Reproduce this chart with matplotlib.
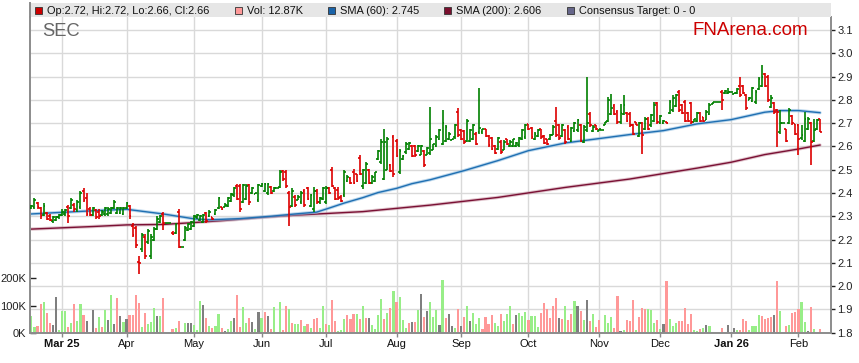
import matplotlib
matplotlib.use('Agg')
import matplotlib.pyplot as plt
from matplotlib.patches import Rectangle
from matplotlib.lines import Line2D
import numpy as np
import pandas as pd

plt.rcParams['font.family'] = ['Liberation Sans', 'DejaVu Sans']

# ---------------- data ----------------
start_date = '2025-02-17'
end_date = '2026-02-11'

opens = [2.335,2.34,2.355,2.335,2.305,2.315,2.30,2.28,2.285,2.295,
 2.305,2.31,2.34,2.335,2.35,2.325,2.34,2.41,2.38,2.33,
 2.305,2.325,2.32,2.305,2.31,2.31,2.315,2.335,2.315,2.315,
 2.31,2.335,2.345,2.26,2.25,2.105,2.16,2.21,2.19,2.13,
 2.20,2.245,2.275,2.31,2.27,2.27,2.23,2.23,2.32,2.17,
 2.20,2.24,2.245,2.26,2.295,2.285,2.275,2.315,2.30,2.295,
 2.31,2.335,2.34,2.34,2.345,2.365,2.39,2.43,2.43,2.36,
 2.375,2.435,2.40,2.395,2.37,2.43,2.41,2.40,2.425,2.41,
 2.42,2.425,2.495,2.49,2.40,2.345,2.385,2.37,2.36,2.41,
 2.42,2.345,2.33,2.41,2.36,2.375,2.36,2.42,2.50,2.42,
 2.415,2.385,2.39,2.45,2.465,2.49,2.48,2.55,2.43,2.445,
 2.50,2.445,2.45,2.545,2.535,2.46,2.50,2.52,2.64,2.625,
 2.49,2.545,2.575,2.59,2.60,2.60,2.58,2.565,2.58,2.565,
 2.57,2.585,2.60,2.63,2.61,2.625,2.63,2.627,2.64,2.75,
 2.67,2.665,2.625,2.625,2.63,2.655,2.66,2.66,2.675,2.645,
 2.635,2.60,2.59,2.62,2.585,2.63,2.60,2.60,2.60,2.605,
 2.63,2.64,2.695,2.68,2.63,2.645,2.675,2.645,2.63,2.63,
 2.65,2.71,2.69,2.645,2.67,2.685,2.625,2.665,2.67,2.69,
 2.62,2.67,2.74,2.665,2.69,2.668,2.672,2.693,2.71,2.74,
 2.775,2.75,2.705,2.74,2.745,2.74,2.69,2.703,2.645,2.70,
 2.675,2.72,2.69,2.71,2.785,2.70,2.70,2.705,2.745,2.755,
 2.775,2.835,2.78,2.79,2.745,2.785,2.707,2.71,2.745,2.725,
 2.715,2.74,2.784,2.79,2.79,2.835,2.828,2.828,2.835,2.826,
 2.828,2.86,2.86,2.82,2.80,2.795,2.79,2.845,2.86,2.91,
 2.90,2.77,2.785,2.755,2.66,2.70,2.675,2.70,2.73,2.695,
 2.69,2.635,2.625,2.675,2.70,2.625,2.675,2.72]

highs = [2.35,2.38,2.36,2.34,2.355,2.32,2.31,2.30,2.30,2.31,
 2.33,2.33,2.35,2.38,2.355,2.37,2.41,2.42,2.40,2.34,
 2.34,2.33,2.33,2.325,2.34,2.34,2.34,2.37,2.34,2.34,
 2.34,2.36,2.35,2.27,2.26,2.13,2.23,2.225,2.245,2.225,
 2.255,2.30,2.305,2.32,2.27,2.27,2.235,2.27,2.33,2.17,
 2.26,2.27,2.28,2.305,2.31,2.305,2.31,2.32,2.325,2.295,
 2.33,2.385,2.34,2.355,2.385,2.40,2.425,2.44,2.44,2.44,
 2.44,2.44,2.425,2.40,2.44,2.445,2.445,2.445,2.43,2.425,
 2.42,2.50,2.50,2.50,2.41,2.42,2.39,2.39,2.41,2.418,
 2.425,2.397,2.425,2.418,2.383,2.425,2.428,2.425,2.512,2.425,
 2.425,2.39,2.497,2.476,2.469,2.505,2.483,2.562,2.505,2.533,
 2.505,2.476,2.49,2.583,2.634,2.677,2.641,2.526,2.648,2.634,
 2.59,2.562,2.619,2.619,2.605,2.605,2.605,2.605,2.583,2.598,
 2.77,2.612,2.648,2.677,2.756,2.691,2.662,2.634,2.698,2.763,
 2.677,2.669,2.72,2.677,2.698,2.662,2.849,2.677,2.677,2.648,
 2.641,2.605,2.641,2.626,2.626,2.634,2.626,2.634,2.619,2.641,
 2.677,2.698,2.698,2.684,2.662,2.677,2.677,2.648,2.634,2.655,
 2.691,2.77,2.698,2.698,2.677,2.691,2.684,2.705,2.72,2.698,
 2.691,2.90,2.748,2.691,2.691,2.677,2.672,2.705,2.813,2.827,
 2.784,2.756,2.784,2.82,2.748,2.748,2.698,2.705,2.705,2.705,
 2.727,2.727,2.741,2.791,2.791,2.734,2.712,2.705,2.798,2.82,
 2.827,2.842,2.784,2.798,2.748,2.791,2.72,2.748,2.748,2.727,
 2.756,2.785,2.79,2.79,2.79,2.842,2.842,2.849,2.835,2.83,
 2.849,2.90,2.863,2.827,2.813,2.856,2.842,2.899,2.949,2.916,
 2.906,2.82,2.791,2.76,2.756,2.70,2.677,2.763,2.734,2.698,
 2.698,2.691,2.748,2.727,2.705,2.72,2.72,2.72]

lows = [2.33,2.33,2.33,2.29,2.30,2.285,2.28,2.27,2.28,2.29,
 2.30,2.30,2.27,2.33,2.32,2.32,2.33,2.36,2.30,2.30,
 2.30,2.29,2.29,2.30,2.30,2.30,2.31,2.33,2.31,2.31,
 2.305,2.33,2.29,2.21,2.165,2.05,2.145,2.115,2.18,2.115,
 2.195,2.24,2.27,2.24,2.27,2.27,2.22,2.225,2.165,2.17,
 2.195,2.235,2.24,2.255,2.29,2.28,2.27,2.27,2.295,2.285,
 2.305,2.33,2.325,2.34,2.34,2.36,2.385,2.37,2.32,2.355,
 2.37,2.35,2.395,2.395,2.36,2.425,2.405,2.39,2.395,2.405,
 2.42,2.42,2.45,2.42,2.26,2.34,2.34,2.368,2.354,2.34,
 2.368,2.34,2.318,2.354,2.354,2.368,2.354,2.397,2.425,2.368,
 2.368,2.361,2.383,2.447,2.44,2.44,2.447,2.476,2.418,2.44,
 2.44,2.44,2.447,2.54,2.526,2.454,2.497,2.49,2.469,2.555,
 2.483,2.54,2.569,2.583,2.555,2.555,2.576,2.562,2.512,2.562,
 2.562,2.583,2.598,2.626,2.605,2.619,2.626,2.626,2.634,2.641,
 2.626,2.612,2.619,2.619,2.626,2.605,2.655,2.655,2.641,2.598,
 2.583,2.569,2.583,2.569,2.583,2.605,2.598,2.598,2.598,2.598,
 2.626,2.634,2.669,2.634,2.626,2.641,2.634,2.612,2.605,2.626,
 2.648,2.641,2.626,2.641,2.612,2.626,2.619,2.662,2.662,2.619,
 2.615,2.662,2.684,2.662,2.669,2.667,2.672,2.691,2.705,2.734,
 2.734,2.698,2.698,2.734,2.705,2.684,2.648,2.691,2.641,2.569,
 2.669,2.669,2.684,2.705,2.698,2.698,2.698,2.698,2.741,2.748,
 2.77,2.748,2.741,2.705,2.705,2.698,2.705,2.705,2.705,2.705,
 2.712,2.734,2.783,2.79,2.79,2.756,2.827,2.827,2.835,2.825,
 2.827,2.813,2.827,2.758,2.799,2.791,2.784,2.842,2.856,2.856,
 2.791,2.763,2.741,2.598,2.655,2.70,2.619,2.698,2.691,2.648,
 2.562,2.626,2.619,2.669,2.519,2.619,2.669,2.66]

closes = [2.345,2.37,2.34,2.30,2.345,2.29,2.285,2.295,2.295,2.305,
 2.32,2.325,2.30,2.37,2.33,2.36,2.40,2.37,2.31,2.305,
 2.335,2.295,2.30,2.32,2.335,2.33,2.335,2.36,2.335,2.335,
 2.335,2.355,2.30,2.22,2.175,2.10,2.22,2.13,2.235,2.21,
 2.245,2.29,2.30,2.27,2.27,2.27,2.225,2.265,2.17,2.17,
 2.25,2.265,2.275,2.30,2.305,2.30,2.305,2.28,2.32,2.29,
 2.325,2.38,2.33,2.35,2.38,2.395,2.42,2.375,2.33,2.435,
 2.43,2.36,2.42,2.40,2.435,2.44,2.44,2.44,2.40,2.42,
 2.42,2.49,2.46,2.43,2.34,2.41,2.35,2.385,2.40,2.35,
 2.375,2.39,2.41,2.36,2.38,2.42,2.42,2.40,2.43,2.375,
 2.38,2.365,2.49,2.47,2.445,2.445,2.45,2.48,2.50,2.525,
 2.445,2.47,2.49,2.58,2.62,2.62,2.63,2.495,2.48,2.56,
 2.58,2.56,2.61,2.615,2.56,2.565,2.60,2.60,2.52,2.595,
 2.63,2.61,2.64,2.67,2.70,2.685,2.655,2.633,2.69,2.65,
 2.63,2.62,2.71,2.67,2.69,2.61,2.68,2.675,2.645,2.605,
 2.59,2.57,2.635,2.575,2.62,2.61,2.62,2.63,2.615,2.635,
 2.67,2.69,2.675,2.64,2.655,2.67,2.64,2.615,2.61,2.65,
 2.685,2.65,2.635,2.69,2.62,2.63,2.68,2.70,2.715,2.625,
 2.685,2.70,2.69,2.685,2.675,2.675,2.672,2.703,2.80,2.765,
 2.74,2.705,2.745,2.78,2.71,2.69,2.655,2.693,2.70,2.65,
 2.72,2.675,2.735,2.78,2.705,2.73,2.71,2.70,2.79,2.81,
 2.82,2.755,2.745,2.71,2.71,2.705,2.718,2.745,2.71,2.71,
 2.75,2.78,2.79,2.79,2.79,2.80,2.84,2.835,2.835,2.829,
 2.845,2.82,2.83,2.765,2.81,2.85,2.835,2.89,2.90,2.86,
 2.80,2.81,2.75,2.75,2.70,2.70,2.625,2.755,2.70,2.655,
 2.63,2.65,2.72,2.72,2.62,2.67,2.715,2.66]

volumes_k = [62,23,25,107,114,73,36,29,131,12,
 81,81,23,36,105,44,104,65,44,5,
 84,19,59,23,84,48,138,33,127,62,
 41,51,64,65,138,108,23,73,33,40,
 91,62,62,127,0,0,15,19,44,0,
 38,38,38,28,12,116,102,53,25,17,
 25,69,19,7,16,42,55,138,23,95,
 35,55,40,16,76,56,76,61,16,95,
 0,113,10,100,88,36,31,31,47,25,
 31,19,50,56,18,100,31,28,120,44,
 7,10,52,65,50,70,68,50,100,56,
 55,28,13,64,125,50,74,91,153,114,
 131,48,18,36,40,41,84,142,59,81,
 114,58,82,28,192,55,68,25,18,87,
 25,58,100,44,73,31,55,15,58,31,
 64,36,25,68,44,68,100,31,64,72,
 62,76,47,62,62,23,72,109,87,53,
 98,127,55,51,100,47,68,116,98,80,
 47,120,44,68,23,47,0,64,36,58,
 18,135,7,11,48,44,120,10,58,91,
 87,86,82,36,47,15,31,189,52,25,
 36,44,44,91,31,68,10,7,15,17,
 28,24,5,0,0,17,0,29,0,18,
 10,12,52,45,10,25,25,65,61,50,
 55,58,65,189,81,0,25,28,72,76,
 87,113,40,7,95,15,0,12.87]

# volume direction per day: u = up, d = down, n = unchanged
vol_dir = ''.join([
 'uudduddnnu', 'uududuudnd', 'ndudunundn', 'undddduduu', 'unudnndudn',
 'unnuuundud', 'uudnuunddu', 'udnunudndu', 'nudduduudu', 'dudduududd',
 'uuudddudud', 'nuuuududud', 'uuudndundn', 'uuunudnnud', 'ndunuuuddd',
 'duuduuudnu', 'uuduuudddd', 'ddnduddund', 'unduddnuuu', 'ddnudddudd',
 'duuudunduu', 'uddddduudu', 'nuunndnnnn', 'uddduuuudd', 'ddndundudd',
 'duundund'])

sma60_dates = ['2025-02-17','2025-03-03','2025-03-19','2025-04-01','2025-04-17',
 '2025-05-01','2025-05-08','2025-05-22','2025-06-05','2025-06-17','2025-06-26',
 '2025-07-02','2025-07-09','2025-07-17','2025-07-24','2025-08-01','2025-08-08',
 '2025-08-18','2025-09-02','2025-09-17','2025-10-01','2025-10-17','2025-10-31',
 '2025-11-17','2025-12-02','2025-12-17','2026-01-01','2026-01-16','2026-01-23',
 '2026-02-02','2026-02-11']
sma60_vals = [2.31,2.317,2.325,2.33,2.31,2.289,2.285,2.29,2.30,2.31,2.318,
 2.335,2.357,2.38,2.402,2.42,2.44,2.457,2.496,2.539,2.582,2.615,2.632,
 2.651,2.668,2.697,2.715,2.747,2.754,2.754,2.745]

sma200_dates = ['2025-02-17','2025-03-17','2025-04-01','2025-04-17','2025-05-01',
 '2025-05-16','2025-06-02','2025-06-17','2025-07-17','2025-08-18','2025-09-17',
 '2025-10-17','2025-11-17','2025-12-17','2026-01-01','2026-01-16','2026-02-02',
 '2026-02-11']
sma200_vals = [2.245,2.256,2.263,2.265,2.273,2.283,2.295,2.305,2.32,2.348,2.381,
 2.424,2.46,2.507,2.532,2.565,2.589,2.606]

month_labels = ['Mar 25','Apr','May','Jun','Jul','Aug','Sep','Oct','Nov','Dec','Jan 26','Feb']
price_ticks = [1.8,1.9,2.0,2.1,2.2,2.3,2.4,2.5,2.6,2.7,2.8,2.9,3.0,3.1]
vol_ticks_k = [0,100,200]

header_items = [
    ('Op:2.72, Hi:2.72, Lo:2.66, Cl:2.66', '#cc0000', 35),
    ('Vol: 12.87K', '#ff9999', 235),
    ('SMA (60): 2.745', '#1a63a8', 328),
    ('SMA (200): 2.606', '#7a0f2e', 444),
    ('Consensus Target: 0 - 0', '#66668a', 567),
]

# ---------------- figure ----------------
W, H = 859, 363
fig = plt.figure(figsize=(W/100, H/100), dpi=100)
fig.patch.set_facecolor('white')

def fx(px):
    return px / W

def fy(py):
    return 1 - py / H

rect = [fx(30), fy(333), 801/W, 316/H]
dates = pd.bdate_range(start_date, end_date)
n = len(dates)
x = np.arange(n)
xlim = (-0.45, 260.6)
ylim = (1.7987, 3.156)

months = dates.month.values
month_pos = [i for i in range(1, n) if months[i] != months[i - 1]]

# grid layer
axg = fig.add_axes(rect)
axg.set_xlim(*xlim); axg.set_ylim(*ylim)
for p in price_ticks:
    axg.axhline(p, color='#d9d9d9', lw=1.0, zorder=0)
for p in month_pos:
    axg.axvline(p, color='#d9d9d9', lw=1.0, zorder=0)
axg.set_xticks([]); axg.set_yticks([])
for s in axg.spines.values():
    s.set_visible(False)

# volume layer
axv = fig.add_axes(rect)
axv.patch.set_visible(False)
axv.set_xlim(*xlim)
vcol = {'u': '#98ee88', 'd': '#ff9898', 'n': '#7f7f7f'}
vols = np.array(volumes_k, dtype=float)
axv.bar(x, vols, width=0.7, color=[vcol[c] for c in vol_dir[:n]], linewidth=0)
axv.set_ylim(0, 1150)
axv.set_yticks(vol_ticks_k)
axv.set_yticklabels([f'{v}K' for v in vol_ticks_k])
axv.tick_params(axis='y', direction='in', length=4, width=1, color='#222222',
                labelsize=8, pad=3, labelcolor='#222222')
axv.set_xticks([])
for s in axv.spines.values():
    s.set_visible(False)

# price layer
ax = fig.add_axes(rect)
ax.patch.set_visible(False)
ax.set_ylim(*ylim)
ax.set_xlim(*xlim)

sx60 = [dates.get_loc(pd.Timestamp(d)) for d in sma60_dates]
sx200 = [dates.get_loc(pd.Timestamp(d)) for d in sma200_dates]
ax.plot(sx200, sma200_vals, color='#c08898', lw=2.4, alpha=0.5, solid_capstyle='round', zorder=2)
ax.plot(sx200, sma200_vals, color='#7a1034', lw=1.0, zorder=2)
ax.plot(sx60, sma60_vals, color='#8fbde0', lw=2.4, alpha=0.6, solid_capstyle='round', zorder=2)
ax.plot(sx60, sma60_vals, color='#1f6fb2', lw=1.0, zorder=2)

o = np.array(opens); h = np.array(highs); l = np.array(lows); c = np.array(closes)
cols = np.where(c >= o, '#008000', '#dd0000')
ax.vlines(x, l, h, colors=cols, lw=1.2, zorder=3)
ax.hlines(o, x - 0.6, x, colors=cols, lw=1.2, zorder=3)
ax.hlines(c, x, x + 0.6, colors=cols, lw=1.2, zorder=3)

ax.yaxis.tick_right()
ax.set_yticks(price_ticks)
ax.set_yticklabels([f'{p:.1f}' for p in price_ticks])
ax.tick_params(axis='y', direction='out', length=3, width=1, color='#222222',
               labelsize=8, pad=1.5, labelcolor='#222222')
ax.set_xticks(month_pos)
ax.set_xticklabels(month_labels)
for lab in ax.get_xticklabels():
    if ' ' in lab.get_text():
        lab.set_fontweight('bold')
ax.tick_params(axis='x', direction='out', length=3, width=1, color='#888888',
               labelsize=8, pad=1, labelcolor='#111111')
for side in ['left', 'right', 'bottom']:
    ax.spines[side].set_color('#8c8c8c')
    ax.spines[side].set_linewidth(1.4)
ax.spines['top'].set_visible(False)

# header band
fig.patches.append(Rectangle((fx(30), fy(17)), 801/W, 14/H, transform=fig.transFigure,
                             facecolor='#e6e6e6', edgecolor='none', zorder=0))
fig.lines.append(Line2D([fx(30), fx(30)], [fy(3), fy(17)], transform=fig.transFigure,
                        color='#8c8c8c', lw=1.4))
for text, colr, px in header_items:
    fig.patches.append(Rectangle((fx(px), fy(14)), 7/W, 7/H, transform=fig.transFigure,
                                 facecolor=colr, edgecolor='#333333', lw=0.6, zorder=2))
    fig.text(fx(px + 12), fy(10.5), text, fontsize=7.9, color='#111111', va='center', ha='left')

fig.text(fx(42), fy(32), 'SEC', fontsize=13.2, color='#666666', va='center', ha='left')
fig.text(fx(693), fy(30.5), 'FNArena.com', fontsize=13.5, color='#cc0000', va='center', ha='left')

fig.savefig('out.png', dpi=100)
